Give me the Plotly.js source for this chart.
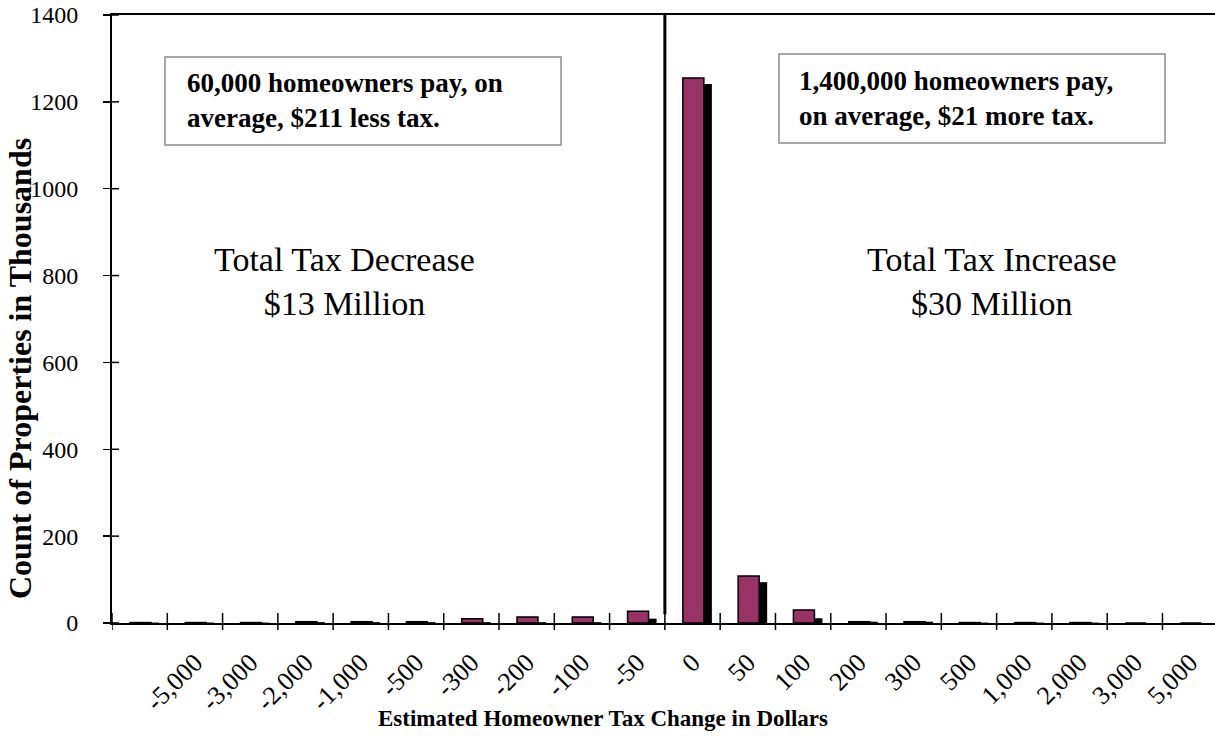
<!DOCTYPE html>
<html>
<head>
<meta charset="utf-8">
<script src="https://cdn.plot.ly/plotly-3.0.1.min.js"></script>
<style>html,body{margin:0;padding:0;background:#fff;overflow:hidden;}#chart{width:1215px;height:746px;}</style>
</head>
<body>
<div id="chart"></div>
<script>
// Data (counts in thousands)
const tickLabels = ['', '-5,000', '-3,000', '-2,000', '-1,000', '-500', '-300', '-200', '-100', '-50', '0', '50', '100', '200', '300', '500', '1,000', '2,000', '3,000', '5,000'];
const frontValues = [1, 1, 1, 3, 3, 3, 10, 14, 14, 27, 1255, 108, 30, 3, 3, 1, 1, 1, 0, 0];
const shadowValues = [1, 1, 1, 2, 2, 2, 2, 2, 2, 10, 1241, 94, 11, 3, 3, 1, 1, 1, 0, 0];
const yTicks = [0, 200, 400, 600, 800, 1000, 1200, 1400];

const xIdx = tickLabels.map((_, i) => i);
const serif = 'Liberation Serif, Times New Roman, serif';

const traces = [
  {type: 'bar', x: xIdx, y: shadowValues, offset: 0.0, width: 0.35,
   marker: {color: '#000000', line: {width: 0}}, hoverinfo: 'skip', showlegend: false},
  {type: 'bar', x: xIdx, y: frontValues, offset: -0.175, width: 0.38,
   marker: {color: '#993366', line: {color: '#000000', width: 1.5}}, showlegend: false}
];

const shapes = [];
// x tick marks at category boundaries (crossing the axis)
for (let i = 0; i <= tickLabels.length; i++) {
  shapes.push({type: 'line', xref: 'x', yref: 'paper', x0: i - 0.5, x1: i - 0.5,
    y0: -7 / 608, y1: 10 / 608, line: {color: '#000', width: 1.5}});
}
// inner part of y ticks
yTicks.forEach(v => {
  shapes.push({type: 'line', xref: 'paper', yref: 'y', x0: 0, x1: 7 / 1103, y0: v, y1: v,
    line: {color: '#000', width: 1.5}});
});
// divider line between decreases and increases
shapes.push({type: 'line', xref: 'x', yref: 'y', x0: 9.5, x1: 9.5, y0: 20, y1: 1400,
  line: {color: '#000', width: 3}});
// text boxes
shapes.push({type: 'rect', xref: 'paper', yref: 'paper', x0: 0.0480, x1: 0.4071, y0: 0.7862, y1: 0.9309,
  line: {color: '#8c8c8c', width: 1.5}, fillcolor: 'rgba(0,0,0,0)'});
shapes.push({type: 'rect', xref: 'paper', yref: 'paper', x0: 0.6047, x1: 0.9547, y0: 0.7895, y1: 0.9359,
  line: {color: '#8c8c8c', width: 1.5}, fillcolor: 'rgba(0,0,0,0)'});

const annotations = [
  {xref: 'paper', yref: 'paper', x: 0.0662, y: 0.8586, xanchor: 'left', yanchor: 'middle', align: 'left',
   showarrow: false, text: '<b>60,000 homeowners pay, on<br>average, $211 less tax.</b>',
   font: {family: serif, size: 27, color: '#000'}},
  {xref: 'paper', yref: 'paper', x: 0.6210, y: 0.8627, xanchor: 'left', yanchor: 'middle', align: 'left',
   showarrow: false, text: '<b>1,400,000 homeowners pay,<br>on average, $21 more tax.</b>',
   font: {family: serif, size: 27, color: '#000'}},
  {xref: 'paper', yref: 'paper', x: (344 - 112) / 1103, y: 0.5609, xanchor: 'center', yanchor: 'middle',
   showarrow: false, text: 'Total Tax Decrease<br>$13 Million',
   font: {family: serif, size: 34, color: '#000'}},
  {xref: 'paper', yref: 'paper', x: (992 - 112) / 1103, y: 0.5609, xanchor: 'center', yanchor: 'middle',
   showarrow: false, text: 'Total Tax Increase<br>$30 Million',
   font: {family: serif, size: 34, color: '#000'}},
  {xref: 'paper', yref: 'paper', x: (603 - 112) / 1103, y: (623 - 718) / 608, xanchor: 'center', yanchor: 'middle',
   showarrow: false, text: '<b>Estimated Homeowner Tax Change in Dollars</b>',
   font: {family: serif, size: 23, color: '#000'}},
  {xref: 'paper', yref: 'paper', x: (20 - 112) / 1103, y: (623 - 369) / 608, xanchor: 'center', yanchor: 'middle',
   textangle: -90, showarrow: false, text: '<b>Count of Properties in Thousands</b>',
   font: {family: serif, size: 32, color: '#000'}}
];

const layout = {
  width: 1215, height: 746,
  margin: {l: 112, r: 0, t: 15, b: 123, pad: 0},
  paper_bgcolor: '#fff', plot_bgcolor: '#fff',
  barmode: 'overlay',
  xaxis: {
    range: [-0.5, 19.45], tickmode: 'array', tickvals: xIdx, ticktext: tickLabels,
    tickangle: -45, ticks: '', showgrid: false, zeroline: false,
    showline: true, mirror: true, linecolor: '#000', linewidth: 2,
    ticklabelstandoff: 12,
    tickfont: {family: serif, size: 26, color: '#000'}
  },
  yaxis: {
    range: [0, 1400], tickmode: 'array', tickvals: yTicks, ticks: 'outside', ticklen: 7,
    tickwidth: 1.5, tickcolor: '#000', showgrid: false, zeroline: false,
    showline: true, linecolor: '#000', linewidth: 2, ticklabelstandoff: 20,
    tickfont: {family: serif, size: 24, color: '#000'}
  },
  shapes: shapes,
  annotations: annotations,
  font: {family: serif, color: '#000'}
};

Plotly.newPlot('chart', traces, layout, {displayModeBar: false, staticPlot: true});
</script>
</body>
</html>
